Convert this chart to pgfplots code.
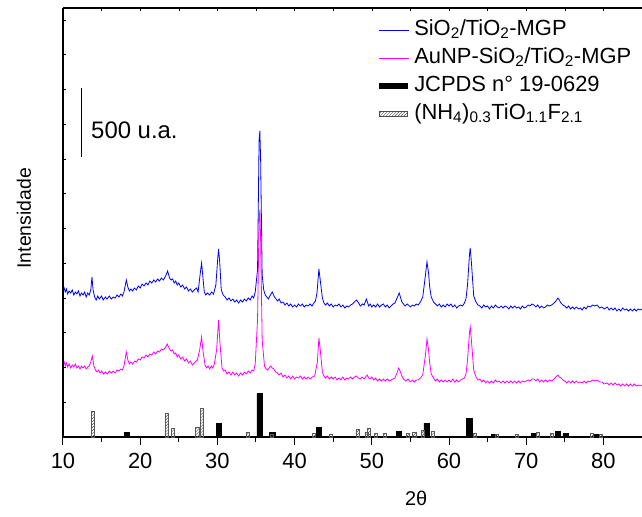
\documentclass[border=0pt]{standalone}
\usepackage{fontspec}
\setmainfont{Liberation Sans}
\usepackage{pgfplots}
\usepackage{pgfplotstable}
\pgfplotsset{compat=1.18}
\usetikzlibrary{patterns}

\pgfplotstableread{
x y
10.0 145
10.15 149
10.3 145
10.45 148
10.6 143
10.8 146
11.0 144
11.2 147
11.4 142
11.6 145
11.8 143
12.0 146
12.2 141
12.4 144
12.6 142
12.8 145
13.0 140
13.2 144
13.4 142
13.6 147
13.75 160
13.9 147
14.1 140
14.3 137
14.5 141
14.7 138
15.0 141
15.2 137
15.5 140
15.7 138
16.0 141
16.25 138
16.5 140
16.75 139
17.0 142
17.25 140
17.5 143
17.7 141
17.9 145
18.2 157
18.4 150
18.6 146
18.8 148
19.0 146
19.25 149
19.5 147
19.75 151
20.0 149
20.25 153
20.5 151
20.75 154
21.0 152
21.25 156
21.5 154
21.75 157
22.0 155
22.25 158
22.5 156
22.75 159
23.0 157
23.3 161
23.55 166
23.8 159
24.0 157
24.2 158
24.4 154
24.6 156
24.8 152
25.0 154
25.25 150
25.5 152
25.75 148
26.0 150
26.25 146
26.5 148
26.75 145
27.0 147
27.3 149
27.5 145
27.8 165
27.95 174
28.1 162
28.3 145
28.5 142
28.7 144
29.0 142
29.25 145
29.5 143
29.8 152
30.05 179
30.15 188
30.3 175
30.5 147
30.75 142
31.0 140
31.25 137
31.5 139
31.75 136
32.0 138
32.25 135
32.5 137
32.75 134
33.0 137
33.25 135
33.5 138
33.75 136
34.0 139
34.25 137
34.5 141
34.7 139
34.9 145
35.2 167
35.4 297
35.5 306
35.6 277
35.8 162
36.0 147
36.2 142
36.4 140
36.6 138
36.8 141
37.1 145
37.4 140
37.6 138
37.8 136
38.0 138
38.25 134
38.5 135
38.75 132
39.0 134
39.25 131
39.5 133
39.75 130
40.0 132
40.25 130
40.5 133
40.75 131
41.0 133
41.25 130
41.5 132
41.75 131
42.0 133
42.25 131
42.5 134
42.7 136
42.9 144
43.15 168
43.35 155
43.6 139
43.8 134
44.0 132
44.25 134
44.5 131
44.75 133
45.0 130
45.25 132
45.5 131
45.75 133
46.0 130
46.25 132
46.5 129
46.75 131
47.0 130
47.25 132
47.5 133
48.0 137
48.3 134
48.5 131
48.8 133
49.0 132
49.3 138
49.6 131
49.8 133
50.0 130
50.25 132
50.5 130
50.75 133
51.0 130
51.25 132
51.5 133
51.75 130
52.0 132
52.25 129
52.5 131
52.75 133
53.0 134
53.55 144
53.9 135
54.1 133
54.3 131
54.6 133
55.0 130
55.25 132
55.5 131
55.75 133
56.0 132
56.3 135
56.6 140
56.95 162
57.15 175
57.35 164
57.5 150
57.7 140
58.0 135
58.25 133
58.5 131
58.75 133
59.0 130
59.25 132
59.5 130
59.75 133
60.0 131
60.25 133
60.5 130
60.75 132
61.0 129
61.25 131
61.5 132
61.75 131
62.0 134
62.2 138
62.4 152
62.65 182
62.75 189
62.9 175
63.2 141
63.5 135
63.75 132
64.0 131
64.25 129
64.5 132
64.75 130
65.0 131
65.25 128
65.5 131
65.75 129
66.0 132
66.25 130
66.5 129
66.75 131
67.0 129
67.25 131
67.5 130
67.75 128
68.0 131
68.25 129
68.5 131
68.75 129
69.0 130
69.25 128
69.5 131
69.75 129
70.0 130
70.25 132
70.5 131
70.75 133
71.0 132
71.25 130
71.5 132
71.75 129
72.0 131
72.25 129
72.5 130
72.75 132
73.0 131
73.3 132
73.6 134
73.85 136
74.1 139
74.3 137
74.5 134
74.75 132
75.0 131
75.25 129
75.5 131
75.75 128
76.0 130
76.25 128
76.5 130
76.75 128
77.0 129
77.25 127
77.5 130
77.75 128
78.0 131
78.3 130
78.6 132
78.9 131
79.2 132
79.5 129
79.8 130
80.1 128
80.5 130
80.75 127
81.0 129
81.25 127
81.5 129
81.75 126
82.0 128
82.25 126
82.5 129
82.75 127
83.0 128
83.25 126
83.5 128
83.75 126
84.0 128
84.25 126
84.5 128
84.75 127
85.0 128
}\bluedata

\pgfplotstableread{
x y
10.0 72
10.15 75
10.3 71
10.45 74
10.6 70
10.8 73
11.0 69
11.2 72
11.4 70
11.6 73
11.8 69
12.0 71
12.2 68
12.4 71
12.6 69
12.8 71
13.0 68
13.2 70
13.4 71
13.6 75
13.8 81
14.0 71
14.2 67
14.4 65
14.6 67
14.8 64
15.0 66
15.25 63
15.5 65
15.75 63
16.0 66
16.25 64
16.5 66
16.75 64
17.0 67
17.25 66
17.5 68
17.7 67
17.9 71
18.2 85
18.4 77
18.6 73
18.8 75
19.0 73
19.3 76
19.5 75
19.75 78
20.0 77
20.25 80
20.5 79
20.75 82
21.0 80
21.25 83
21.5 82
21.75 85
22.0 83
22.25 86
22.5 85
22.75 88
23.0 87
23.3 90
23.5 93
23.8 88
24.0 86
24.2 87
24.4 83
24.6 84
24.8 80
25.0 82
25.25 78
25.5 80
25.75 76
26.0 78
26.25 74
26.5 76
26.75 72
27.0 74
27.4 77
27.7 87
27.95 100
28.15 85
28.4 72
28.6 69
28.8 71
29.0 68
29.2 71
29.4 69
29.6 73
29.9 87
30.15 117
30.35 92
30.6 69
30.8 66
31.0 67
31.25 63
31.5 65
31.75 62
32.0 65
32.25 62
32.5 64
32.75 61
33.0 64
33.25 62
33.5 65
33.75 63
34.0 66
34.25 64
34.5 67
34.7 66
34.9 73
35.2 117
35.4 217
35.5 227
35.6 197
35.8 97
36.1 71
36.3 68
36.5 67
36.7 69
36.9 71
37.1 69
37.3 68
37.55 65
37.8 64
38.0 62
38.25 64
38.5 60
38.75 62
39.0 59
39.25 61
39.5 58
39.75 61
40.0 58
40.25 60
40.5 59
40.75 61
41.0 58
41.25 60
41.5 58
41.75 60
42.0 58
42.3 60
42.6 61
42.95 75
43.15 99
43.35 85
43.6 65
43.8 61
44.0 59
44.25 61
44.5 58
44.75 60
45.0 58
45.25 60
45.5 57
45.75 59
46.0 57
46.25 60
46.5 57
46.75 59
47.0 58
47.25 60
47.5 58
47.75 60
48.0 61
48.25 59
48.5 58
48.75 60
49.0 58
49.4 62
49.6 59
49.8 58
50.0 60
50.25 57
50.5 59
50.75 56
51.0 58
51.25 56
51.5 58
51.75 56
52.0 58
52.25 56
52.5 57
52.75 58
53.0 59
53.5 69
53.9 61
54.1 58
54.4 56
54.7 58
55.0 55
55.25 57
55.5 55
55.75 57
56.0 57
56.3 59
56.6 62
56.95 82
57.15 98
57.35 87
57.5 74
57.7 63
58.0 59
58.25 56
58.5 58
58.75 55
59.0 57
59.25 55
59.5 57
59.75 55
60.0 57
60.25 55
60.5 58
60.75 55
61.0 57
61.25 55
61.5 57
61.75 58
62.0 59
62.2 63
62.4 77
62.65 104
62.75 110
62.9 97
63.2 67
63.5 60
63.75 57
64.0 58
64.25 55
64.5 57
64.75 54
65.0 56
65.25 54
65.5 56
65.75 54
66.0 57
66.25 55
66.5 56
66.75 54
67.0 56
67.25 54
67.5 56
67.75 54
68.0 56
68.25 54
68.5 56
68.75 54
69.0 56
69.25 54
69.5 56
69.75 55
70.0 56
70.25 57
70.5 56
70.75 58
71.0 58
71.25 56
71.5 58
71.75 55
72.0 57
72.25 55
72.5 57
72.75 55
73.0 57
73.3 56
73.6 58
73.85 60
74.1 62
74.3 60
74.5 59
74.75 57
75.0 56
75.25 54
75.5 56
75.75 54
76.0 56
76.25 54
76.5 56
76.75 54
77.0 55
77.25 54
77.5 56
77.75 54
78.0 56
78.3 55
78.6 57
78.9 56
79.2 57
79.5 55
79.8 55
80.1 53
80.5 54
80.75 52
81.0 54
81.25 52
81.5 54
81.75 52
82.0 53
82.25 51
82.5 53
82.75 51
83.0 53
83.25 51
83.5 53
83.75 51
84.0 53
84.25 51
84.5 52
84.75 51
85.0 52
}\magentadata

\pgfplotstableread{
x y
18.26 5
30.2 14
35.45 43.5
37.1 5
43.15 10
53.5 6
57.1 14
62.6 18.5
65.8 3
71.0 3.5
74.1 6
75.1 3.5
79.1 2.5
}\jcpds

\pgfplotstableread{
x y
13.85 26
23.5 24
24.2 9
27.4 10
27.98 29
33.9 5
37.0 3
42.5 4
44.7 3
48.15 7.5
49.3 5
49.6 9
50.5 3.5
51.7 3.5
54.7 3.5
55.5 4.5
56.6 7
57.9 6
63.4 3.5
66.2 3
68.8 2.5
71.5 4.5
73.35 3.5
78.5 3.5
79.7 3
}\nhtio

\definecolor{myblue}{RGB}{0,0,255}
\definecolor{mymag}{RGB}{255,0,255}

\begin{document}
\begin{tikzpicture}
\begin{axis}[
  scale only axis, width=579bp, height=429bp,
  xmin=10, xmax=85, ymin=0, ymax=429,
  axis x line*=bottom, axis y line*=left,
  every outer x axis line/.append style={-},
  every outer y axis line/.append style={-},
  axis line style={line width=1.1bp, black},
  xtick={10,20,...,80}, minor xtick={15,25,...,85},
  ytick=\empty,
  tick align=outside,
  major tick length=8bp, minor tick length=5bp,
  tick style={line width=1bp, black},
  ticklabel style={font=\fontsize{22}{26}\selectfont},
  xticklabel style={yshift=-5bp},
  /pgf/number format/assume math mode=true,
  xlabel={2θ},
  xlabel style={font=\fontsize{20}{24}\selectfont, at={(axis description cs:0.61,0)}, anchor=center, yshift=-61bp},
  ylabel={Intensidade},
  ylabel style={font=\fontsize{19.5}{23}\selectfont, at={(axis description cs:0,0.51)}, anchor=center, yshift=39bp},
  legend style={draw=none, fill=none, at={(rel axis cs:0.545,0.978)}, anchor=north west,
    font=\fontsize{22}{26}\selectfont, inner sep=0pt, row sep=3bp,
    nodes={inner sep=1.5bp, text height=16bp, text depth=6bp}},
  legend cell align=left,
]
\coordinate (O) at (rel axis cs:0,0);
\addplot[myblue, line width=0.8bp,
  legend image code/.code={\draw[myblue, line width=1bp] (0bp,0bp) -- (30bp,0bp);}]
  table[x=x,y=y] {\bluedata};
\addlegendentry{\hspace{3bp}SiO\textsubscript{2}/TiO\textsubscript{2}-MGP}
\addplot[mymag, line width=0.8bp,
  legend image code/.code={\draw[mymag, line width=1bp] (0bp,0bp) -- (30bp,0bp);}]
  table[x=x,y=y] {\magentadata};
\addlegendentry{\hspace{3bp}AuNP-SiO\textsubscript{2}/TiO\textsubscript{2}-MGP}
\addplot[ybar, bar width=0.7, bar shift=0pt, fill=black, draw=black,
  legend image code/.code={\fill[black] (0bp,-2.5bp) rectangle (28bp,2.5bp);}]
  table[x=x,y=y] {\jcpds};
\addlegendentry{\hspace{3bp}JCPDS n° 19-0629}
\addplot[ybar, bar width=0.4, bar shift=0pt, draw=black!65, line width=0.6bp,
  pattern=north east lines, pattern color=black!70,
  legend image code/.code={\draw[black!70, line width=0.6bp, pattern=north east lines] (0bp,-2.5bp) rectangle (28bp,2.5bp);}]
  table[x=x,y=y] {\nhtio};
\addlegendentry{\hspace{3bp}(NH\textsubscript{4})\textsubscript{0.3}TiO\textsubscript{1.1}F\textsubscript{2.1}}
\draw[line width=1bp] (axis cs:12.46,280) -- (axis cs:12.46,349);
\node[anchor=west, inner sep=0pt, font=\fontsize{24}{28}\selectfont] at (axis cs:13.63,307) {500 u.a.};
\end{axis}
\begin{axis}[
  scale only axis, width=579bp, height=429bp,
  xmin=10, xmax=85, ymin=0, ymax=429,
  axis x line*=top, axis y line*=left,
  every outer x axis line/.append style={-},
  every outer y axis line/.append style={-},
  axis line style={line width=1.1bp, black},
  xtick={15,20,...,80}, xticklabels={},
  ytick={0,34.75,...,417}, yticklabels={},
  tick align=inside,
  major tick length=3bp,
  tick style={line width=0.6bp, black},
]
\end{axis}
\pgfresetboundingbox
\path (O) ++(-63bp,-80bp) rectangle ++(642bp,517bp);
\end{tikzpicture}
\end{document}
